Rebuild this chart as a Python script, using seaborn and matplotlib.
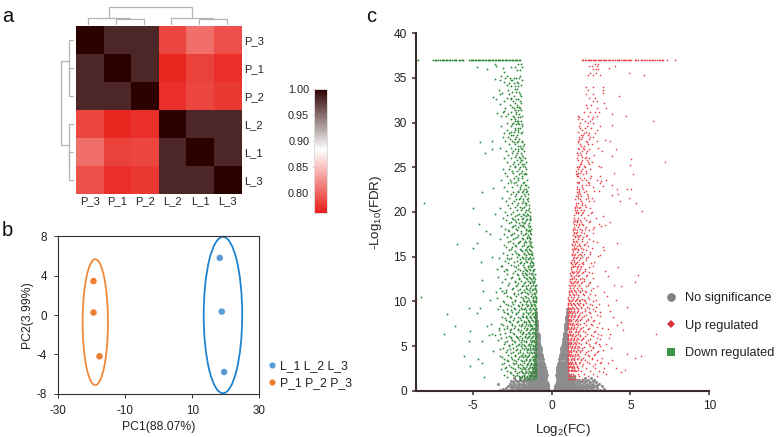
import numpy as np
import pandas as pd
import matplotlib
matplotlib.use("Agg")
import matplotlib.pyplot as plt
from matplotlib.colors import LinearSegmentedColormap
from matplotlib.lines import Line2D
from matplotlib.patches import Ellipse
import seaborn as sns

# ---------- panel a ----------
samples = ["P_3", "P_1", "P_2", "L_2", "L_1", "L_3"]
corr_p3 = [1.000, 0.982, 0.982, 0.782, 0.8045, 0.788]
corr_p1 = [0.982, 1.000, 0.982, 0.765, 0.780, 0.770]
corr_p2 = [0.982, 0.982, 1.000, 0.770, 0.782, 0.775]
corr_l2 = [0.782, 0.765, 0.770, 1.000, 0.982, 0.982]
corr_l1 = [0.8045, 0.780, 0.782, 0.982, 1.000, 0.982]
corr_l3 = [0.788, 0.770, 0.775, 0.982, 0.982, 1.000]
# merges: left leaf pos, right leaf pos, height, left child height, right child height
merges = [(1.5, 2.5, 0.28, 0, 0), (0.5, 2.0, 0.34, 0, 0.28),
          (4.5, 5.5, 0.28, 0, 0), (3.5, 5.0, 0.34, 0, 0.28),
          (1.25, 4.25, 1.0, 0.34, 0.34)]

# ---------- panel b ----------
pc1 = [18.2, 18.8, 19.5, -19.5, -19.5, -17.7]
pc2 = [5.8, 0.35, -5.8, 3.45, 0.25, -4.2]
groups = ["L_1 L_2 L_3"]*3 + ["P_1 P_2 P_3"]*3
ell_cx = [19.15, -18.96]
ell_cy = [0.0, -0.73]
ell_w = [11.5, 7.56]
ell_h = [15.9, 12.8]

# ---------- panel c ----------
top_level = 37.0
down_top_x = [-8.6,-8.5,-7.53,-7.42,-7.3,-7.2,-7.08,-6.98,-6.9,-6.8,-6.72,-6.62,-6.5,-6.42,-6.32,-6.22,-6.12,-6.05,-5.87,-5.78,-5.68,-5.6,
              -5.23,-5.14,-5.05,-4.96,-4.87,-4.78,-4.69,-4.6,-4.51,-4.42,-4.33,-4.24,-4.15,-4.06,-3.97,-3.88,-3.79,-3.7,-3.61,-3.52,
              -3.43,-3.34,-3.25,-3.16,-3.07,-2.98,-2.89,-2.8,-2.71,-2.62,-2.53,-2.44,-2.35,-2.26,-2.17,-2.08,-2.0]
up_top_x = [1.9,1.98,2.1,2.2,2.28,2.36,2.44,2.52,2.6,2.68,2.76,2.84,2.92,3.0,3.08,3.16,3.24,3.32,3.4,3.48,3.56,3.64,3.72,3.8,3.9,
            4.02,4.12,4.22,4.3,4.4,4.5,4.58,4.66,4.74,4.82,4.9,4.98,5.05,5.3,5.38,5.46,5.65,5.75,5.85,5.95,6.05,6.15,6.25,6.35,6.45,6.55,6.7,6.8,6.9,7.0,7.07,7.32,7.8]

down_sparse_x = [-8.12,-5.0,-4.4,-4.53,-4.24,-3.8,-3.75,-3.74,-3.6,-4.75,-4.1,-3.6,-3.55,-3.1,-3.05,-8.3,-6.0,-4.96,-4.75,-4.62,-4.18,-3.9,-4.5,-3.8,
                 -4.43,-4.32,-3.52,-3.16,-6.65,-6.14,-6.8,-5.17,-5.23,-4.54,-4.7,-3.9,-5.23,-5.55,-4.64,-5.17,-4.39,-4.28,-4.43,-4.11,-3.86,-3.7,-4.0,-3.8,
                 -3.59,-3.38,-3.35,-3.44,-3.16,-2.85,-3.3,-3.15,-3.5,-3.25,-3.7,-3.05,-3.45,-3.2,-3.6,-3.4]
down_sparse_y = [21,20.4,22.2,27.8,26.6,28,27.1,22.7,19.8,36.2,36,36.6,36.3,36.1,35.7,10.5,16.4,16,16.5,18.7,17.9,17.5,14.4,15,
                 12.4,11.2,11,11.2,8.6,7.2,6.3,6.7,9.3,9.2,8.7,10.1,5.6,3.9,3.6,2.8,3.1,1.5,5.6,7.2,7.5,4.4,6.2,6.3,
                 6.2,5.7,7,13.6,14,14.8,34.8,33.3,32.7,32.1,32.9,31.3,31.1,30.7,34.9,9.1]
up_sparse_x = [6.65,5.7,5.27,4.81,5.49,5.27,4.18,4.16,4.37,3.95,4.81,4.11,4.43,4.5,3.69,4.16,4.66,4.43,4.11,3.69,3.38,3.16,3.23,2.95,3.1,3.59,3.27,3.48,
               6.43,5.87,4.92,4.7,4.28,4.0,3.65,7.17,5.02,5.0,5.13,5.34,5.74,5.06,4.75,4.9,4.33,4.22,4.16,3.86,3.8,3.27,3.44,3.16,3.95,3.16,3.8,4.07,3.73,3.4,3.8,3.8,3.48,3.3,3.27,3.27,
               3.9,3.6,3.45,3.75,3.55,3.4,3.85,3.65,3.3,3.5,3.7,3.35,3.6,3.25]
up_sparse_y = [6.3,3.9,3.7,4.07,13,12.2,13.9,16.5,11.7,11.8,9.4,10.1,7.65,6.8,6.4,7.35,2.3,2.05,2.5,18.9,18.5,18.4,16.1,15.1,15.2,3.06,2.1,1.9,
               30.2,35.3,35.6,30.8,33,36.3,36.1,25.6,25.9,25.3,24.3,21,20.1,22.6,22.6,21.6,21.2,22,22.6,23,21.9,22.9,23.6,23.5,24.4,25,26.3,27.1,28,28.1,29.7,31,31.6,32.2,34,33.3,
               8.3,9.6,5.2,4.8,12.8,13.4,3.4,5.9,11.1,10.6,8.9,15.7,6.9,19.6]

down_levels = [36.6,36.2,35.9,35.0,34.8,34.4,34.1,33.8,33.4,33.0,32.6,32.2,31.8,31.4,31.0,30.6,30.2,29.8,29.4,29.0,28.6,28.2,27.8,27.4,27.0,26.6,26.2,25.8,25.4,25.0,24.6,24.2,23.8,23.4,23.0,22.6,22.2,21.8,21.4,21.0,20.6,20.2,
               19.8,19.5,19.2,18.9,18.6,18.3,18.0,17.7,17.4,17.1,16.8,16.5,16.2,15.9,15.6,15.3,15.0,14.7,14.4,14.1,13.8,13.5,13.2,12.9,12.6,12.3,12.0,11.7,11.4,11.1,10.8,10.5,10.2,
               9.9,9.6,9.3,9.0,8.7,8.4,8.1,7.8,7.5,7.2,6.9,6.6,6.3,6.0,5.7,5.4,5.1,4.8,4.5,4.2,3.9,3.6,3.3,3.0,2.7,2.4,2.1,1.8,1.5]
down_level_x = [
 [-2.1,-1.95],[-2.55,-2.3,-1.9],[-2.2,-2.0],[-2.95,-2.65,-2.4,-2.25,-2.05],[-2.6,-2.5,-1.85],[-2.7,-2.4,-2.1],[-2.6,-2.3,-2.15],[-2.35,-2.2],[-2.5,-2.25,-2.05],[-2.4,-1.95],[-2.55,-2.25,-2.1],[-1.95,-2.35],[-2.5,-2.2,-2.05],[-2.3,-2.1,-1.95],[-2.75,-2.25,-2.05],[-2.4,-2.15,-2.0],[-2.35,-2.2,-2.1,-1.95],[-2.5,-2.25,-2.05,-1.9],[-2.3,-2.15,-2.0],[-2.6,-2.4,-2.1,-1.85],[-2.55,-2.45,-2.2],[-2.65,-2.3,-2.05],[-2.4,-2.2,-1.9],[-2.15,-2.0,-1.8],[-2.3,-2.1,-1.85],[-2.5,-2.2,-1.95],[-2.35,-2.05,-1.8],[-2.2,-1.95,-1.85],[-2.45,-2.15,-1.9,-1.75],[-2.35,-2.0,-1.7],[-2.5,-2.2,-1.85],[-2.05,-1.75,-1.65],[-2.4,-2.1,-1.9],[-2.55,-2.25,-1.75],[-2.2,-1.95,-1.7,-1.6],[-2.0,-1.75,-1.62],[-2.45,-2.1,-1.85,-1.65],[-2.3,-1.95,-1.7],[-2.25,-2.05,-1.8,-1.55],[-2.5,-2.1,-1.9,-1.7,-1.6],[-2.35,-2.0,-1.75],[-2.2,-1.95,-1.6,-1.5],
 [-2.6,-2.05,-1.8,-1.55],[-2.3,-1.95,-1.65,-1.4],[-2.45,-2.15,-1.85,-1.55,-1.4],[-2.6,-2.25,-1.9,-1.7],[-2.35,-2.0,-1.8,-1.5],[-2.5,-2.1,-1.75,-1.42],[-2.75,-2.2,-1.65,-1.45],[-2.4,-1.95,-1.6,-1.4],[-2.55,-2.15,-1.8,-1.5],[-2.3,-1.9,-1.55,-1.35],[-2.65,-2.0,-1.7,-1.45],[-2.45,-2.1,-1.75,-1.38],[-2.25,-1.85,-1.5,-1.3],[-2.6,-2.0,-1.65,-1.42],[-2.35,-1.9,-1.55,-1.33],[-2.5,-2.1,-1.75,-1.45,-1.28],[-2.2,-1.85,-1.6,-1.36],[-2.7,-2.0,-1.7,-1.5,-1.3],[-2.4,-1.95,-1.55,-1.25],[-2.55,-2.1,-1.8,-1.4,-1.2],[-2.25,-1.75,-1.5,-1.3],[-2.85,-2.0,-1.6,-1.35,-1.18],[-2.45,-1.9,-1.7,-1.45,-1.25],[-2.15,-1.8,-1.55,-1.15],[-2.6,-2.05,-1.65,-1.35,-1.2],[-2.35,-1.95,-1.5,-1.25,-1.1],[-2.7,-2.1,-1.75,-1.4,-1.15],[-2.25,-1.85,-1.6,-1.3,-1.05],[-2.5,-2.0,-1.55,-1.2,-1.08],[-2.9,-1.9,-1.7,-1.35,-1.0],[-2.4,-2.1,-1.5,-1.25,-1.05],[-2.65,-1.95,-1.6,-1.15,-0.98],[-2.3,-1.8,-1.45,-1.2,-1.02],
 [-3.0,-2.5,-2.0,-1.65,-1.35,-1.1,-0.98],[-2.75,-2.15,-1.85,-1.5,-1.25,-1.05],[-2.4,-1.95,-1.7,-1.4,-1.15,-1.0],[-3.1,-2.55,-2.05,-1.6,-1.3,-1.08],[-2.85,-2.25,-1.8,-1.5,-1.2,-1.0],[-2.6,-1.9,-1.65,-1.4,-1.12,-0.98],[-2.95,-2.4,-2.0,-1.55,-1.3,-1.05],[-2.7,-2.15,-1.75,-1.45,-1.2,-1.0],[-3.2,-2.5,-1.85,-1.6,-1.35,-1.1,-0.98],[-2.8,-2.3,-1.95,-1.7,-1.4,-1.25,-1.02],[-3.05,-2.55,-2.1,-1.55,-1.3,-1.15,-1.0],[-2.65,-2.0,-1.8,-1.45,-1.2,-1.05],[-3.25,-2.4,-1.9,-1.6,-1.35,-1.1,-0.98],[-2.9,-2.6,-2.2,-1.7,-1.5,-1.25,-1.02],[-2.5,-2.05,-1.85,-1.4,-1.15,-1.0],[-2.95,-2.3,-1.95,-1.6,-1.3,-1.1,-0.98],[-2.7,-2.15,-1.75,-1.5,-1.2,-1.05],[-3.1,-2.45,-1.9,-1.65,-1.35,-1.15,-1.0],[-2.85,-2.25,-2.0,-1.55,-1.4,-1.1,-0.98],[-2.6,-2.1,-1.8,-1.45,-1.25,-1.02],[-3.3,-2.35,-1.95,-1.7,-1.5,-1.15,-1.0],[-3.0,-2.5,-2.15,-1.6,-1.35,-1.2,-1.05],[-2.75,-2.25,-1.85,-1.75,-1.45,-1.1,-0.98],[-3.15,-2.4,-2.0,-1.55,-1.3,-1.15,-1.0],[-2.9,-2.55,-2.1,-1.8,-1.65,-1.4,-1.25,-1.05],[-3.2,-2.3,-1.9,-1.7,-1.5,-1.2,-1.0],[-2.65,-2.05,-1.85,-1.6,-1.35,-1.1,-0.98],[-3.05,-2.45,-2.2,-1.75,-1.45,-1.3,-1.02],[-2.8,-2.0,-1.9,-1.55,-1.4,-1.15,-1.0],
]
# second reading of the same green cloud, between the rows above
down2_levels = [35.2,34.6,34.25,33.6,33.2,32.8,32.4,32.0,31.6,31.2,30.8,30.4,30.0,29.6,29.2,28.8,28.4,28.0,27.6,27.2,26.8,26.4,26.0,25.6,25.2,24.8,24.4,24.0,23.6,23.2,22.8,22.4,22.0,21.6,21.2,20.8,20.4,20.0,
                19.65,19.35,19.05,18.75,18.45,18.15,17.85,17.55,17.25,16.95,16.65,16.35,16.05,15.75,15.45,15.15,14.85,14.55,14.25,13.95,13.65,13.35,13.05,12.75,12.45,12.15,11.85,11.55,11.25,10.95,10.65,10.35,10.05,
                9.75,9.45,9.15,8.85,8.55,8.25,7.95,7.65,7.35,7.05,6.75,6.45,6.15,5.85,5.55,5.25,4.95,4.65,4.35,4.05,3.75,3.45,3.15,2.85,2.55,2.25,1.95,1.65,1.35]
down2_level_x = [
 [-3.2,-2.8,-2.0],[-3.0,-2.2],[-2.85,-1.92],[-3.35,-2.75],[-3.3,-2.7,-1.98],[-2.85,-2.6],[-3.0,-2.45,-2.02],[-2.65,-2.18],[-2.95,-2.4,-1.98],[-3.1,-2.6,-2.28],[-2.9,-2.48,-1.88],[-2.6,-2.3],[-2.8,-2.42,-2.15],[-3.2,-2.55,-1.88],[-2.85,-2.35,-2.12],[-3.0,-2.7,-1.92],[-3.1,-2.75,-2.28],[-2.95,-2.5,-2.1,-1.88],[-2.7,-2.35,-1.78],[-3.3,-2.6,-1.96],[-2.9,-2.45,-2.12,-1.72],[-2.75,-2.25,-1.9],[-3.05,-2.6,-2.02,-1.68],[-2.85,-2.4,-1.98,-1.62],[-2.65,-2.3,-1.8],[-3.1,-2.72,-2.08,-1.6],[-2.95,-2.42,-1.92,-1.66],[-2.8,-2.28,-1.86],[-3.2,-2.62,-2.12,-1.58],[-2.75,-2.38,-1.82],[-3.05,-2.5,-2.0,-1.5],[-2.85,-2.15,-1.8,-1.55],[-2.6,-2.28,-1.72,-1.5],[-3.15,-2.7,-2.02,-1.52],[-2.9,-2.4,-1.82,-1.48],[-2.75,-2.22,-1.65,-1.45],[-3.3,-2.65,-1.88,-1.42],[-2.95,-2.48,-1.7,-1.4],
 [-2.8,-2.2,-1.72,-1.48],[-3.1,-2.52,-1.84,-1.36],[-2.9,-2.3,-1.62,-1.34],[-2.72,-2.08,-1.76,-1.44],[-3.2,-2.42,-1.86,-1.38],[-2.95,-2.26,-1.6,-1.32],[-2.68,-1.92,-1.52,-1.36],[-3.05,-2.5,-1.7,-1.3],[-2.85,-2.18,-1.58,-1.42],[-3.3,-2.44,-1.82,-1.36],[-2.78,-2.08,-1.62,-1.28],[-3.0,-2.3,-1.72,-1.4],[-2.92,-2.5,-1.56,-1.24],[-2.72,-1.96,-1.66,-1.34],[-3.1,-2.28,-1.78,-1.48,-1.22],[-2.84,-2.06,-1.62,-1.26],[-3.35,-2.55,-1.82,-1.44,-1.2],[-2.96,-2.22,-1.6,-1.3],[-2.76,-2.02,-1.74,-1.38,-1.16],[-3.2,-2.4,-1.52,-1.24],[-2.88,-2.14,-1.66,-1.42,-1.12],[-3.05,-2.3,-1.84,-1.56,-1.2],[-2.8,-2.18,-1.62,-1.32,-1.08],[-3.4,-2.5,-1.78,-1.46,-1.14],[-2.95,-2.06,-1.58,-1.28,-1.04],[-3.15,-2.34,-1.7,-1.4,-1.1],[-2.75,-2.2,-1.82,-1.52,-1.18,-1.02],[-3.3,-2.44,-1.64,-1.34,-1.06],[-2.9,-2.16,-1.76,-1.44,-1.22,-1.0],[-3.05,-2.36,-1.92,-1.58,-1.12],[-2.8,-2.24,-1.68,-1.3,-1.03],[-3.45,-2.55,-1.8,-1.48,-1.16,-0.98],
 [-3.1,-2.3,-1.78,-1.55,-1.2,-1.03],[-2.9,-2.45,-1.9,-1.62,-1.32,-1.12],[-3.3,-2.6,-2.08,-1.55,-1.28,-1.06],[-2.8,-2.35,-1.88,-1.72,-1.42,-1.12,-0.98],[-3.0,-2.5,-2.12,-1.62,-1.34,-1.08],[-2.75,-2.28,-1.8,-1.48,-1.26,-1.04],[-3.15,-2.62,-2.1,-1.84,-1.6,-1.36,-1.14],[-2.88,-2.42,-1.96,-1.52,-1.24,-1.02],[-2.65,-2.22,-1.78,-1.64,-1.44,-1.08],[-3.1,-2.52,-2.05,-1.85,-1.48,-1.3,-1.02],[-2.86,-2.36,-1.72,-1.58,-1.26,-1.12],[-3.35,-2.66,-2.12,-1.92,-1.62,-1.38,-1.04],[-2.98,-2.46,-1.8,-1.52,-1.22,-1.08],[-2.72,-2.28,-2.02,-1.68,-1.44,-1.16,-1.0],[-3.18,-2.58,-2.1,-1.88,-1.56,-1.32,-1.06],[-2.84,-2.36,-1.76,-1.6,-1.24,-1.12],[-3.0,-2.52,-2.06,-1.86,-1.46,-1.28,-1.02],[-2.7,-2.28,-1.92,-1.68,-1.38,-1.18,-1.06],[-3.28,-2.62,-2.18,-1.78,-1.5,-1.24,-1.0],[-2.92,-2.44,-2.0,-1.58,-1.32,-1.14],[-2.78,-2.32,-1.86,-1.66,-1.42,-1.08,-1.02],[-3.12,-2.56,-2.06,-1.8,-1.54,-1.22,-1.04],[-2.86,-2.38,-1.94,-1.62,-1.38,-1.16],[-3.0,-2.48,-2.24,-1.72,-1.5,-1.28,-1.06],[-2.72,-2.14,-1.88,-1.58,-1.34,-1.12,-1.0],[-2.96,-2.42,-2.0,-1.76,-1.46,-1.22,-1.04],[-2.8,-2.3,-1.94,-1.62,-1.42,-1.26,-1.08],[-2.6,-2.18,-1.8,-1.68,-1.5,-1.32,-1.14,-1.02],[-2.35,-2.06,-1.86,-1.72,-1.56,-1.38,-1.2,-1.06],[-1.98,-1.74,-1.58,-1.44,-1.3,-1.12],
]

up_levels = [36.6,36.3,36.0,35.6,35.3,34.0,33.6,33.2,32.8,32.4,32.0,31.6,31.2,30.8,30.4,30.0,29.6,29.2,28.8,28.4,28.0,27.6,27.2,26.8,26.4,26.0,25.6,25.2,24.8,24.4,24.0,23.6,23.2,22.8,22.4,22.0,21.6,21.2,20.8,20.4,20.0,
             19.7,19.3,19.0,18.7,18.3,18.0,17.6,17.3,17.0,16.6,16.3,16.0,15.7,15.3,15.0,14.6,14.3,14.0,13.6,13.3,13.0,12.6,12.3,12.0,11.7,11.3,11.0,10.7,10.3,10.0,
             9.7,9.4,9.1,8.8,8.5,8.2,7.9,7.6,7.3,7.0,6.7,6.4,6.1,5.8,5.5,5.2,4.9,4.6,4.3,4.0,3.7,3.4,3.1,2.8,2.5,2.2,1.9,1.6,1.3]
up_level_x = [
 [2.75,2.95],[2.35,2.55,2.85],[2.6,2.8,2.95],[2.45,2.8],[2.3,2.65,3.1],[2.15,2.65],[2.3,3.25],[2.2,2.6],[2.4,2.75],[2.65,2.9],[2.15,2.5],[2.25,2.9],[2.05,2.45,2.75,3.0],[1.7,2.3,2.9],[1.65,1.9,2.55],[1.8,2.3,2.6],[1.75,2.25,3.1],[1.95,2.9],[2.05,2.4,2.75],[1.75,1.9,2.45,2.6],[1.7,2.15,2.85],[1.8,2.3,2.55],[1.65,2.0,2.95],[1.95,2.25,3.2],[1.7,1.85,2.7],[1.6,2.1,2.4],[1.85,2.3,2.55],[1.75,2.05,3.0],[1.7,1.95,2.45],[1.65,1.8,2.15],[1.6,1.7,2.5,3.05],[1.9,2.2,2.85],[1.7,2.4,3.1],[1.6,1.95,2.6],[1.75,2.15,3.0,2.7],[1.65,1.8,2.25],[1.7,2.3,2.55],[1.85,2.4,2.7],[1.55,1.9,2.1],[1.5,1.75,2.45],[1.55,1.7,2.0,2.55],
 [1.45,1.85,2.3],[1.4,1.7,2.05,2.8],[1.5,1.6,2.45],[1.4,1.75,1.95,3.0],[1.45,1.65,2.2,2.7],[1.35,1.6,1.9,2.35],[1.4,1.55,2.05,2.6],[1.5,1.75,2.15],[1.35,1.65,1.95,2.4],[1.4,1.6,2.25,2.9],[1.3,1.75,2.05],[1.45,1.55,1.85,2.55],[1.35,1.65,2.2],[1.3,1.5,1.8,2.05,2.45],[1.4,1.6,1.9,2.3],[1.3,1.45,1.75,2.15],[1.25,1.55,1.95,2.5],[1.35,1.5,1.7,1.85,2.65],[1.25,1.6,1.8,2.1],[1.3,1.45,1.65,2.0,2.4],[1.2,1.55,1.75,2.25],[1.3,1.4,1.9,2.6],[1.15,1.5,1.7,2.05],[1.25,1.35,1.6,1.85,2.35],[1.15,1.45,1.75,2.15,2.9],[1.2,1.4,1.65,1.95,2.5],[1.1,1.3,1.55,1.8,2.2],[1.15,1.45,1.7,2.05,2.75],[1.05,1.35,1.6,1.9,2.35],[1.1,1.25,1.5,1.75,2.1,2.6],
 [1.05,1.2,1.4,1.65,2.0,2.45,3.0],[1.02,1.3,1.55,1.85,2.25,2.8],[1.1,1.25,1.45,1.7,2.1,2.6],[1.02,1.15,1.35,1.6,1.95,2.4,3.1],[1.08,1.3,1.5,1.75,2.2,2.9],[1.02,1.2,1.4,1.65,1.9,2.5],[1.1,1.25,1.55,1.8,2.3,2.7],[1.02,1.15,1.35,1.6,2.05,3.0],[1.05,1.3,1.45,1.7,2.15,2.55],[1.02,1.2,1.4,1.85,2.4,3.2],[1.1,1.25,1.55,1.75,2.0,2.75],[1.02,1.15,1.35,1.65,2.25,2.95],[1.05,1.3,1.5,1.8,2.1,2.6],[1.02,1.2,1.45,1.7,1.95,2.45,3.1],[1.1,1.25,1.4,1.6,2.2,2.8],[1.02,1.15,1.35,1.55,1.85,2.35,3.0],[1.05,1.3,1.5,1.75,2.05,2.65],[1.02,1.2,1.4,1.65,1.95,2.5,3.25],[1.1,1.25,1.55,1.8,2.15,2.9],[1.02,1.15,1.35,1.6,2.3,2.7],[1.05,1.3,1.45,1.7,2.0,2.55,3.2],[1.02,1.2,1.4,1.85,2.1,2.85],[1.1,1.25,1.5,1.75,2.4,3.05],[1.02,1.15,1.35,1.6,1.95,2.6],[1.05,1.3,1.45,1.7,2.2,2.75,3.3],[1.02,1.2,1.4,1.55,1.85,2.45,3.0],[1.1,1.25,1.35,1.65,2.05,2.6],[1.02,1.15,1.3,1.5,1.75,2.3,2.9],[1.02,1.1,1.2,1.35,1.45,1.6,1.9],[1.02,1.1,1.18,1.26,1.34,1.42],
]
# second reading of the same red cloud, between the rows above
up2_levels = [30.6,30.2,29.4,29.0,28.6,28.2,27.8,27.4,27.0,26.6,26.2,25.8,25.4,25.0,24.6,24.2,23.8,23.4,23.0,22.6,22.2,21.8,21.4,21.0,20.6,20.2,
              19.85,19.15,18.85,18.5,18.15,17.8,17.45,17.15,16.8,16.45,16.15,15.85,15.5,15.15,14.8,14.45,14.15,13.8,13.45,13.15,12.8,12.45,12.15,11.85,11.5,11.15,10.85,10.5,10.15,
              9.85,9.55,9.25,8.95,8.65,8.35,8.05,7.75,7.45,7.15,6.85,6.55,6.25,5.95,5.65,5.35,5.05,4.75,4.45,4.15,3.85,3.55,3.25,2.95,2.65,2.35,2.05,1.75,1.45]
up2_level_x = [
 [1.72,2.6],[2.1,2.45],[1.82,2.12,2.5],[1.7,2.2],[1.85,2.0,2.3],[1.75,1.88,2.35],[1.68,2.25],[1.85,2.08],[1.72,2.05,2.4],[1.64,1.78,2.2],[1.9,2.15],[1.66,1.95,2.25],[1.78,1.88,2.35],[1.62,1.72,2.12],[1.56,1.84,2.2],[1.55,1.64,2.0],[1.82,2.08,2.45],[1.6,1.72,2.28],[1.9,2.15,2.35],[1.58,1.74,2.0],[1.62,1.76,2.08],[1.55,1.68,1.88,2.32],[1.5,1.82,2.2],[1.52,1.65,1.95],[1.46,1.6,1.78,2.15],[1.5,1.64,1.85,2.05],
 [1.55,1.66,1.95,2.5],[1.44,1.58,1.78,2.2],[1.38,1.62,1.86,2.35],[1.52,1.72,1.98],[1.36,1.5,1.82,2.1,2.65],[1.44,1.58,1.88],[1.34,1.62,1.8,2.25],[1.46,1.7,2.0],[1.38,1.54,1.92,2.6],[1.32,1.48,1.72,2.1],[1.42,1.58,1.82,2.3],[1.3,1.5,1.68,2.0],[1.38,1.6,1.94,2.45],[1.28,1.44,1.7,1.88],[1.34,1.56,1.82,2.2],[1.24,1.42,1.62,2.02,2.7],[1.32,1.48,1.76,1.98],[1.22,1.38,1.58,1.84,2.35],[1.28,1.52,1.72,2.12],[1.18,1.36,1.62,1.9,2.55],[1.24,1.44,1.68,2.2],[1.14,1.32,1.54,1.78,2.05],[1.2,1.4,1.6,1.92,2.45],[1.12,1.28,1.48,1.72,2.28],[1.16,1.38,1.62,1.86,2.65],[1.08,1.26,1.5,1.78,2.12],[1.12,1.34,1.56,1.98,2.45],[1.04,1.22,1.44,1.68,2.3],[1.08,1.28,1.52,1.82,2.05,2.8],
 [1.03,1.18,1.36,1.58,1.78,2.2],[1.06,1.24,1.46,1.72,2.02,2.55],[1.03,1.16,1.34,1.6,1.88,2.35],[1.08,1.22,1.42,1.66,2.12,2.75],[1.03,1.14,1.32,1.5,1.78,2.42],[1.06,1.24,1.44,1.7,2.05,3.05],[1.03,1.18,1.36,1.58,1.84,2.28],[1.08,1.22,1.48,1.68,2.15,2.65],[1.03,1.14,1.32,1.52,1.8,2.48],[1.06,1.26,1.42,1.62,1.98,2.85],[1.03,1.18,1.36,1.56,1.82,2.32],[1.08,1.22,1.46,1.68,2.12,2.7],[1.03,1.14,1.32,1.52,1.78,2.5,3.15],[1.06,1.26,1.42,1.6,2.02,2.9],[1.03,1.18,1.36,1.54,1.86,2.3],[1.08,1.22,1.46,1.72,2.18,2.72],[1.03,1.14,1.32,1.48,1.7,2.42,3.05],[1.06,1.26,1.42,1.6,1.9,2.6],[1.03,1.18,1.36,1.52,1.82,2.28,2.95],[1.08,1.22,1.46,1.68,2.1,2.78],[1.03,1.14,1.3,1.48,1.72,2.34],[1.06,1.24,1.42,1.6,1.88,2.58],[1.03,1.16,1.32,1.5,1.78,2.25,3.15],[1.04,1.12,1.24,1.38,1.56,1.98,2.72],[1.03,1.1,1.22,1.3,1.44,1.58],[1.03,1.12,1.2,1.3,1.38,1.5,1.68]
]

grey_levels = [0.1,0.2,0.3,0.4,0.5,0.65,0.8,0.95,1.1,1.25,1.4,1.6,1.8,2.0,2.2,2.4,2.6,2.8,3.0,3.25,3.5,3.75,4.0,4.25,4.5,4.75,5.0,5.25,5.5,5.75,6.0,6.25,6.5,6.75,7.0,7.25,7.5,7.75,8.0,8.25,8.5,8.8,9.1]
grey_level_x = [
 [-3.3,-2.7,-2.3,-2.0,-1.75,-1.55,-1.4,-1.25,-1.1,-0.95,-0.8,-0.65,-0.5,-0.38,-0.26,-0.14,0.14,0.26,0.38,0.5,0.65,0.8,0.95,1.1,1.25,1.4,1.55,1.75,2.0,2.3,2.7,3.1],
 [-3.1,-2.5,-2.15,-1.85,-1.62,-1.45,-1.3,-1.15,-1.02,-0.88,-0.72,-0.58,-0.44,-0.32,-0.2,0.2,0.32,0.44,0.58,0.72,0.88,1.02,1.15,1.3,1.45,1.62,1.85,2.15,2.5,3.35],
 [-2.9,-2.5,-2.2,-1.95,-1.7,-1.5,-1.3,-1.15,-1.0,-0.85,-0.7,-0.55,-0.42,-0.3,-0.2,0.2,0.3,0.42,0.55,0.7,0.85,1.0,1.15,1.3,1.5,1.7,1.95,2.2,2.5,2.9],
 [-2.6,-2.3,-2.05,-1.8,-1.58,-1.38,-1.22,-1.08,-0.92,-0.78,-0.62,-0.5,-0.36,-0.25,0.25,0.36,0.5,0.62,0.78,0.92,1.08,1.22,1.38,1.58,1.8,2.05,2.3,2.6],
 [-2.75,-2.4,-2.1,-1.85,-1.6,-1.4,-1.2,-1.05,-0.9,-0.75,-0.6,-0.47,-0.35,-0.22,0.22,0.35,0.47,0.6,0.75,0.9,1.05,1.2,1.4,1.6,1.85,2.1,2.4,2.75,3.2],
 [-2.5,-2.15,-1.9,-1.68,-1.45,-1.25,-1.12,-0.98,-0.82,-0.68,-0.54,-0.42,-0.3,0.3,0.42,0.54,0.68,0.82,0.98,1.12,1.25,1.45,1.68,1.9,2.15,2.5,2.85],
 [-3.4,-2.65,-2.3,-2.0,-1.75,-1.5,-1.3,-1.1,-0.95,-0.8,-0.65,-0.5,-0.37,-0.25,0.25,0.37,0.5,0.65,0.8,0.95,1.1,1.3,1.5,1.75,2.0,2.3,2.65,3.0],
 [-2.45,-2.1,-1.82,-1.58,-1.36,-1.18,-1.02,-0.86,-0.72,-0.58,-0.44,-0.32,0.32,0.44,0.58,0.72,0.86,1.02,1.18,1.36,1.58,1.82,2.1,2.45,2.8],
 [-2.6,-2.2,-1.9,-1.65,-1.4,-1.2,-1.05,-0.9,-0.75,-0.6,-0.47,-0.33,0.33,0.47,0.6,0.75,0.9,1.05,1.2,1.4,1.65,1.9,2.2,2.6],
 [-2.3,-1.98,-1.72,-1.5,-1.28,-1.12,-0.96,-0.82,-0.68,-0.54,-0.4,0.4,0.54,0.68,0.82,0.96,1.12,1.28,1.5,1.72,1.98,2.3,2.7],
 [-2.4,-2.0,-1.7,-1.45,-1.2,-1.05,-0.9,-0.75,-0.6,-0.48,-0.36,0.36,0.48,0.6,0.75,0.9,1.05,1.2,1.45,2.1,2.5],
 [-1.35,-1.18,-1.02,-0.88,-0.74,-0.6,-0.46,-0.34,0.34,0.46,0.6,0.74,0.88,1.02,1.18,1.4],
 [-1.3,-1.1,-0.95,-0.8,-0.65,-0.52,-0.4,-0.3,0.3,0.4,0.52,0.65,0.8,0.95,1.1],
 [-1.22,-1.06,-0.9,-0.76,-0.62,-0.5,-0.36,0.34,0.46,0.58,0.72,0.88,1.0],
 [-1.15,-1.0,-0.85,-0.7,-0.57,-0.45,-0.33,0.33,0.45,0.57,0.7,0.85,1.0],
 [-1.12,-0.96,-0.82,-0.68,-0.54,-0.4,0.34,0.46,0.6,0.74,0.88,0.98],
 [-1.1,-0.95,-0.82,-0.68,-0.55,-0.42,0.36,0.48,0.6,0.75,0.9,1.0],
 [-1.08,-0.92,-0.78,-0.64,-0.5,0.38,0.52,0.66,0.8,0.94],
 [-1.05,-0.9,-0.75,-0.62,-0.5,0.42,0.55,0.7,0.85,1.0],
 [-1.08,-0.96,-0.82,-0.68,-0.54,0.46,0.58,0.72,0.86,0.98],
 [-1.05,-0.92,-0.78,-0.65,-0.55,0.5,0.62,0.76,0.9,1.0],
 [-1.06,-0.94,-0.8,-0.68,-0.58,0.52,0.66,0.8,0.94],
 [-1.0,-0.88,-0.75,-0.62,0.55,0.68,0.82,0.95],
 [-1.04,-0.92,-0.8,-0.68,0.58,0.7,0.84,0.98],
 [-1.0,-0.87,-0.74,-0.65,0.6,0.73,0.86,0.98],
 [-1.04,-0.92,-0.8,-0.7,0.62,0.76,0.9],
 [-1.0,-0.88,-0.76,0.68,0.8,0.92],
 [-1.02,-0.92,-0.8,0.7,0.82,0.96],
 [-0.98,-0.86,-0.77,0.72,0.84,0.96],
 [-1.02,-0.92,-0.82,0.74,0.86,0.98],
 [-0.98,-0.88,-0.8,0.76,0.88,0.98],
 [-1.0,-0.9,-0.82,0.78,0.9],
 [-0.97,-0.88,0.8,0.92],
 [-1.0,-0.9,0.82,0.94],
 [-0.98,-0.9,0.85,0.95],
 [-1.0,-0.92,0.86,0.96],
 [-0.98,-0.93,0.88,0.97],
 [-1.0,-0.94,0.9,0.98],
 [-0.97,0.93,0.98],
 [-0.98,0.94,1.0],
 [-0.98,0.96],
 [-0.97,0.98],
 [0.99],
]

def rows_to_frame(levels, level_x, sparse_x=(), sparse_y=(), top=()):
    xs, ys = list(sparse_x), list(sparse_y)
    for lev, row in zip(levels, level_x):
        xs.extend(row); ys.extend([lev]*len(row))
    xs.extend(top); ys.extend([top_level]*len(top))
    return pd.DataFrame({"fc": xs, "fdr": ys})

W, H = 778, 437
sns.set_style("white")
plt.rcParams["font.family"] = ["Liberation Sans", "DejaVu Sans"]
plt.rcParams["mathtext.default"] = "regular"
plt.rcParams["axes.unicode_minus"] = False
fig = plt.figure(figsize=(W/100, H/100), dpi=100, facecolor="white")

def axes_px(x0, y0, x1, y1):
    return fig.add_axes([x0/W, 1-y1/H, (x1-x0)/W, (y1-y0)/H])

TXT = "#222222"

# panel a
cmap = LinearSegmentedColormap.from_list(
    "rwd", [(0, "#e8201a"), (0.51, "#ffffff"), (1, "#2d0000")])
corr = pd.DataFrame([corr_p3, corr_p1, corr_p2, corr_l2, corr_l1, corr_l3], index=samples, columns=samples)
axh = axes_px(76, 25.7, 241.7, 194)
axc = axes_px(314, 89, 326.7, 212.7)
sns.heatmap(corr, ax=axh, cbar_ax=axc, cmap=cmap, vmin=0.7615, vmax=1.0,
            cbar_kws={"ticks": [0.80, 0.85, 0.90, 0.95, 1.00], "format": "%.2f"})
axh.yaxis.tick_right()
axh.tick_params(left=False, right=False, bottom=False, length=0, labelsize=8, labelcolor=TXT, pad=1.5)
plt.setp(axh.get_yticklabels(), rotation=0)
plt.setp(axh.get_xticklabels(), rotation=0)
axc.tick_params(labelsize=7.8, labelcolor=TXT, length=1.5, width=0.6, color="#cccccc", left=True, right=False,
                labelleft=True, labelright=False, pad=2)
for s in axc.spines.values():
    s.set_visible(True); s.set_color("#dddddd"); s.set_linewidth(0.6)

axt = axes_px(76, 7.3, 241.7, 24)
axl = axes_px(60.7, 25.7, 72.7, 194)
DG = "#b4b4b4"
for (a, b, h, ha, hb) in merges:
    axt.plot([a, a, b, b], [ha, h, h, hb], color=DG, lw=0.9, solid_joinstyle="miter")
    axl.plot([ha, h, h, hb], [a, a, b, b], color=DG, lw=0.9, solid_joinstyle="miter")
axt.set_xlim(0.05, 6.05); axt.set_ylim(0, 1.0); axt.axis("off")
axl.set_ylim(6, 0); axl.set_xlim(1.0, 0); axl.axis("off")
for a_ in (axt, axl):
    for ln in a_.get_lines():
        ln.set_clip_on(False)

# panel b
axb = axes_px(58.3, 236.3, 259.3, 393.7)
dfb = pd.DataFrame({"PC1": pc1, "PC2": pc2, "group": groups})
ell_colors = ["#1f83cc", "#ee8a3c"]
sns.scatterplot(data=dfb, x="PC1", y="PC2", hue="group",
                palette={"L_1 L_2 L_3": "#5b9bd5", "P_1 P_2 P_3": "#ed7d31"},
                s=22, linewidth=0, ax=axb, clip_on=False)
for cx, cy, w, h, c in zip(ell_cx, ell_cy, ell_w, ell_h, ell_colors):
    axb.add_patch(Ellipse((cx, cy), w, h, fill=False, edgecolor=c, lw=1.3, clip_on=False))
axb.set_xlim(-30, 30); axb.set_ylim(-8, 8)
axb.set_xticks([-30, -10, 10, 30]); axb.set_yticks([-8, -4, 0, 4, 8])
axb.tick_params(labelsize=8.4, labelcolor=TXT, length=3, width=0.7, color="#333333",
                bottom=True, left=True, pad=5)
axb.set_xlabel("PC1(88.07%)", fontsize=8.8, color=TXT, labelpad=3)
axb.set_ylabel("PC2(3.99%)", fontsize=8.8, color=TXT, labelpad=3)
for s in axb.spines.values():
    s.set_color("#333333"); s.set_linewidth(0.8)
leg = axb.legend(loc="lower left", bbox_to_anchor=(268/W, 1-389.5/H), bbox_transform=fig.transFigure,
                 frameon=False, fontsize=8.8, title=None, handlelength=0.7, handletextpad=0.3,
                 labelspacing=0.42, borderpad=0, borderaxespad=0, markerscale=0.95, labelcolor=TXT)

# panel c
axv = axes_px(416, 33.3, 709.3, 390.7)
grey_df = rows_to_frame(grey_levels, grey_level_x)
up_df = pd.concat([rows_to_frame(up_levels, up_level_x, up_sparse_x, up_sparse_y, up_top_x),
                   rows_to_frame(up2_levels, up2_level_x)])
down_df = pd.concat([rows_to_frame(down_levels, down_level_x, down_sparse_x, down_sparse_y, down_top_x),
                     rows_to_frame(down2_levels, down2_level_x)])
sns.scatterplot(data=grey_df, x="fc", y="fdr", color="#8c8c8c", s=5, linewidth=0, ax=axv)
sns.scatterplot(data=up_df, x="fc", y="fdr", color="#ec4449", s=1.5, linewidth=0, ax=axv, clip_on=False)
sns.scatterplot(data=down_df, x="fc", y="fdr", color="#2f8a36", s=1.8, linewidth=0, ax=axv, clip_on=False)
axv.set_xlim(-8.6, 10); axv.set_ylim(0, 40)
axv.set_xticks([-5, 0, 5, 10]); axv.set_yticks(range(0, 41, 5))
axv.tick_params(labelsize=8.6, labelcolor=TXT, length=3.2, width=1.1, color="#3b2a2a", bottom=True, left=True, pad=3.5)
axv.spines["top"].set_visible(False); axv.spines["right"].set_visible(False)
for k in ("left", "bottom"):
    axv.spines[k].set_color("#3b2a2a"); axv.spines[k].set_linewidth(1.5)
axv.set_xlabel("Log$_2$(FC)", fontsize=9.6, color=TXT, labelpad=7)
axv.set_ylabel("-Log$_{10}$(FDR)", fontsize=9.6, color=TXT, labelpad=7)
handles = [Line2D([], [], marker="o", ls="", color="#808080", ms=6.2, mew=0),
           Line2D([], [], marker="D", ls="", color="#d6343a", ms=4.4, mew=0),
           Line2D([], [], marker="s", ls="", color="#3f9344", ms=5.2, mew=0)]
axv.legend(handles, ["No significance", "Up regulated", "Down regulated"], loc="upper left",
           bbox_to_anchor=(658/W, 1-292.5/H), bbox_transform=fig.transFigure, frameon=False, fontsize=9.2,
           handletextpad=0.1, labelspacing=1.2, borderpad=0, borderaxespad=0, labelcolor=TXT)

# panel letters
for s, x, y in [("a", 2, 16), ("b", 2, 230), ("c", 366, 16)]:
    fig.text(x/W, 1-y/H, s, fontsize=14.5, color="#111111", va="center", ha="left")

fig.savefig("out.png", dpi=100, facecolor="white")
